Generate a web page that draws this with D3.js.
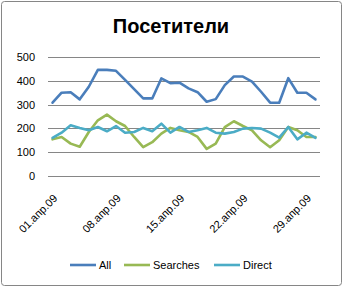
<!DOCTYPE html>
<html>
<head>
<meta charset="utf-8">
<script src="https://cdn.jsdelivr.net/npm/d3@7"></script>
<style>
  body { margin: 0; background: #fff; }
  text { font-family: "Liberation Sans", Arial, sans-serif; }
</style>
</head>
<body>
<svg id="chart"></svg>
<script>
const width = 343;
const height = 287;
const margin = {left: 48, right: 23, top: 57, bottom: 111};

const days = d3.range(1, 31).map(d => (d < 10 ? '0' + d : '' + d) + '.апр.09');
const tickDays = ['01.апр.09', '08.апр.09', '15.апр.09', '22.апр.09', '29.апр.09'];
const yTicks = [0, 100, 200, 300, 400, 500];

const allValues = [308, 350, 352, 322, 375, 446, 446, 442, 404, 365,
  326, 326, 410, 390, 392, 368, 352, 312, 323, 382,
  418, 418, 397, 354, 308, 308, 411, 350, 350, 322];
const searchesValues = [154, 164, 136, 123, 185, 234, 258, 230, 210, 164,
  121, 142, 178, 202, 192, 185, 164, 114, 136, 205,
  230, 210, 192, 150, 121, 150, 206, 192, 164, 164];
const directValues = [160, 182, 213, 202, 192, 206, 188, 210, 182, 185,
  202, 188, 220, 182, 206, 185, 192, 202, 182, 178,
  185, 199, 202, 199, 182, 161, 206, 154, 182, 160];

const seriesNames = ['All', 'Searches', 'Direct'];
const seriesColors = ['#4a7ebb', '#98b954', '#4bacc6'];
const seriesData = [allValues, searchesValues, directValues];

const svg = d3.select('#chart')
  .attr('width', width)
  .attr('height', height);

// chart border
svg.append('rect')
  .attr('x', 1.5).attr('y', 1.5)
  .attr('width', width - 3).attr('height', height - 3)
  .attr('rx', 3)
  .attr('fill', '#fff')
  .attr('stroke', '#868686');

svg.append('text')
  .text('Посетители')
  .attr('x', 171)
  .attr('y', 33)
  .attr('text-anchor', 'middle')
  .style('font-size', '20px')
  .style('font-weight', 'bold');

const plotW = width - margin.left - margin.right;
const plotH = height - margin.top - margin.bottom;

const g = svg.append('g')
  .attr('transform', `translate(${margin.left}, ${margin.top})`);

const xScale = d3.scalePoint()
  .domain(days)
  .range([0, plotW])
  .padding(0.5);

const yScale = d3.scaleLinear()
  .domain([0, 500])
  .range([plotH, 0]);

// gridlines
g.selectAll('.grid')
  .data(yTicks)
  .enter()
  .append('line')
  .attr('x1', 0)
  .attr('x2', plotW)
  .attr('y1', d => Math.round(yScale(d)) + 0.5)
  .attr('y2', d => Math.round(yScale(d)) + 0.5)
  .attr('stroke', '#868686');

const yAxis = d3.axisLeft(yScale).tickValues(yTicks).tickSize(0).tickPadding(13);
g.append('g')
  .call(yAxis)
  .call(s => s.select('.domain').remove())
  .selectAll('text')
  .style('font-size', '11px')
  .attr('fill', '#000');

const xAxis = d3.axisBottom(xScale).tickValues(tickDays).tickSize(0);
g.append('g')
  .attr('transform', `translate(0, ${plotH})`)
  .call(xAxis)
  .call(s => s.select('.domain').remove())
  .selectAll('text')
  .style('font-size', '11px')
  .attr('fill', '#000')
  .attr('text-anchor', 'end')
  .attr('dy', null)
  .attr('y', 0)
  .attr('transform', 'translate(5, 23) rotate(-45)');

const line = d3.line()
  .x((d, i) => xScale(days[i]))
  .y(d => yScale(d));

seriesData.forEach((values, k) => {
  g.append('path')
    .datum(values)
    .attr('d', line)
    .attr('fill', 'none')
    .attr('stroke', seriesColors[k])
    .attr('stroke-width', 2.6)
    .attr('stroke-linejoin', 'round')
    .attr('stroke-linecap', 'round');
});

// legend
const legendX = [70, 124, 214];
const legend = svg.append('g').attr('transform', 'translate(0, 265)');
seriesNames.forEach((name, k) => {
  legend.append('line')
    .attr('x1', legendX[k]).attr('x2', legendX[k] + 26)
    .attr('y1', 0).attr('y2', 0)
    .attr('stroke', seriesColors[k])
    .attr('stroke-width', 2.6);
  legend.append('text')
    .text(name)
    .attr('x', legendX[k] + 29)
    .attr('y', 4)
    .style('font-size', '11px');
});
</script>
</body>
</html>
